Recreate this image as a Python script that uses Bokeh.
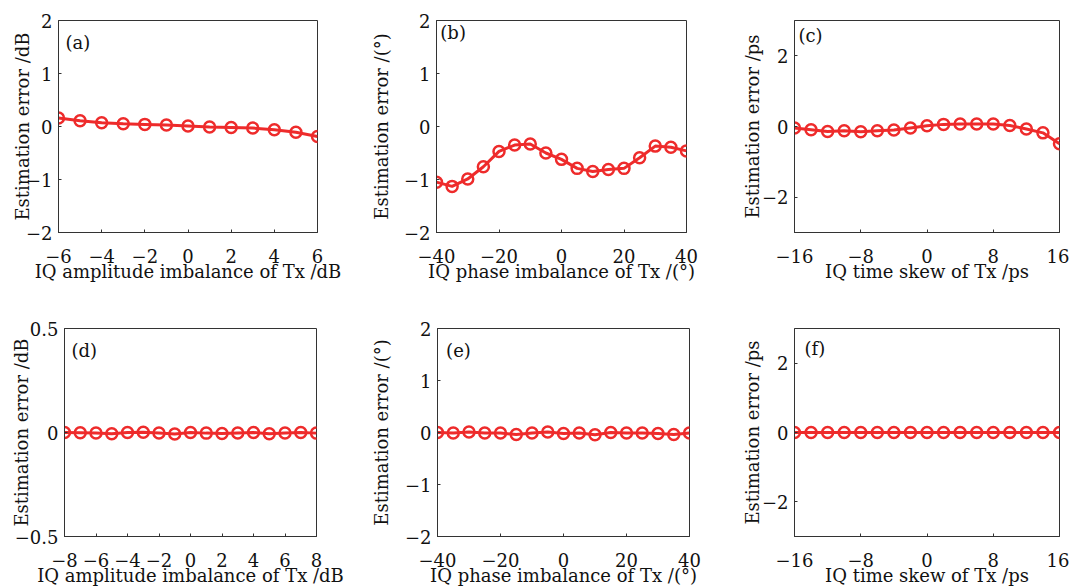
from bokeh.plotting import figure
from bokeh.layouts import column, row
from bokeh.models import Label, FixedTicker, Range1d
from bokeh.embed import file_html
from bokeh.resources import INLINE

# ---------------- data ----------------
a_x = [-6, -5, -4, -3, -2, -1, 0, 1, 2, 3, 4, 5, 6]
a_y = [0.16, 0.11, 0.07, 0.05, 0.04, 0.03, 0.01, -0.01, -0.02, -0.03, -0.06, -0.11, -0.19]

b_x = [-40, -35, -30, -25, -20, -15, -10, -5, 0, 5, 10, 15, 20, 25, 30, 35, 40]
b_y = [-1.05, -1.13, -0.99, -0.76, -0.47, -0.35, -0.33, -0.50, -0.62, -0.79,
       -0.85, -0.81, -0.79, -0.59, -0.37, -0.39, -0.46]

c_x = [-16, -14, -12, -10, -8, -6, -4, -2, 0, 2, 4, 6, 8, 10, 12, 14, 16]
c_y = [-0.04, -0.09, -0.14, -0.12, -0.15, -0.12, -0.10, -0.04, 0.02, 0.06,
       0.07, 0.07, 0.07, 0.03, -0.07, -0.18, -0.49]

d_x = [-8, -7, -6, -5, -4, -3, -2, -1, 0, 1, 2, 3, 4, 5, 6, 7, 8]
d_y = [0.000, -0.001, -0.002, -0.006, 0.000, 0.001, -0.002, -0.007, 0.000,
       -0.003, -0.005, -0.002, 0.000, -0.006, -0.002, 0.000, -0.003]

e_x = [-40, -35, -30, -25, -20, -15, -10, -5, 0, 5, 10, 15, 20, 25, 30, 35, 40]
e_y = [0.00, -0.01, 0.01, -0.01, -0.01, -0.04, -0.01, 0.01, -0.02, -0.01,
       -0.045, 0.00, -0.01, -0.01, -0.02, -0.04, -0.01]

f_x = [-16, -14, -12, -10, -8, -6, -4, -2, 0, 2, 4, 6, 8, 10, 12, 14, 16]
f_y = [0.0, 0.0, 0.0, 0.0, 0.0, 0.0, 0.0, 0.0, 0.0, 0.0, 0.0, 0.0, 0.0, 0.0, 0.0, 0.0, 0.0]

a_xticks = [-6, -4, -2, 0, 2, 4, 6]
d_xticks = [-8, -6, -4, -2, 0, 2, 4, 6, 8]
phase_xticks = [-40, -20, 0, 20, 40]
skew_xticks = [-16, -8, 0, 8, 16]
yticks_2 = [-2, -1, 0, 1, 2]
yticks_3 = [-2, 0, 2]
yticks_05 = [-0.5, 0, 0.5]

amp_xlabel = "IQ amplitude imbalance of Tx /dB"
phase_xlabel = "IQ phase imbalance of Tx /(°)"
skew_xlabel = "IQ time skew of Tx /ps"
amp_ylabel = "Estimation error /dB"
phase_ylabel = "Estimation error /(°)"
skew_ylabel = "Estimation error /ps"

FONT = "DejaVu Serif"
FS = "18px"
RED = "#ee2b2b"
TXT = "#111111"


def fmt(v):
    s = ("%g" % abs(v))
    return ("\u2212" + s) if v < 0 else s


def panel(xs, ys, xr, yr, xt, yt, xlabel, ylabel, tag,
          w, h, bl, br, bt, bb, tag_px, ystand):
    fw = w - bl - br
    fh = h - bt - bb
    p = figure(width=w, height=h,
               x_range=Range1d(*xr), y_range=Range1d(*yr),
               output_backend="svg", toolbar_location=None,
               min_border_left=bl, min_border_right=br,
               min_border_top=bt, min_border_bottom=bb)
    p.xgrid.visible = False
    p.ygrid.visible = False
    p.outline_line_color = "#333333"
    p.outline_line_width = 1
    p.background_fill_color = "white"
    p.border_fill_color = "white"
    for ax, ticks in ((p.xaxis[0], xt), (p.yaxis[0], yt)):
        ax.ticker = FixedTicker(ticks=ticks)
        ax.major_label_overrides = {t: fmt(t) for t in ticks}
        ax.axis_line_color = "#333333"
        ax.major_tick_in = 3
        ax.major_tick_out = 0
        ax.major_tick_line_color = "#333333"
        ax.minor_tick_line_color = None
        ax.major_label_text_font = FONT
        ax.major_label_text_font_size = FS
        ax.major_label_text_color = TXT
        ax.axis_label_text_font = FONT
        ax.axis_label_text_font_size = FS
        ax.axis_label_text_font_style = "normal"
        ax.axis_label_text_color = TXT
    p.xaxis.axis_label = xlabel
    p.yaxis.axis_label = ylabel
    p.xaxis.major_label_standoff = 16
    p.xaxis.axis_label_standoff = -5
    p.yaxis.major_label_standoff = 6
    p.yaxis.axis_label_standoff = ystand

    p.line(xs, ys, line_color=RED, line_width=3)
    p.scatter(xs, ys, marker="circle", size=11, line_color=RED, line_width=2.5,
              fill_color=None)

    sx = (xr[1] - xr[0]) / fw
    sy = (yr[1] - yr[0]) / fh
    p.add_layout(Label(x=xr[0] + tag_px[0] * sx, y=yr[1] - tag_px[1] * sy,
                       text=tag, text_font=FONT, text_font_size=FS,
                       text_color=TXT, text_baseline="top", text_align="left"))
    return p


# row 1
pa = panel(a_x, a_y, (-6, 6), (-2, 2), a_xticks, yticks_2, amp_xlabel, amp_ylabel,
           "(a)", 367, 297, 58, 50, 10, 64, (7, 12), -10)
pb = panel(b_x, b_y, (-40, 40), (-2, 2), phase_xticks, yticks_2, phase_xlabel, phase_ylabel,
           "(b)", 365, 297, 58, 46, 20, 65, (4, 1), 9)
pc = panel(c_x, c_y, (-16, 16), (-3, 3), skew_xticks, yticks_3, skew_xlabel, skew_ylabel,
           "(c)", 337, 297, 62, 10, 15, 65, (4, 5), -4)

# row 2
pd = panel(d_x, d_y, (-8, 8), (-0.5, 0.5), d_xticks, yticks_05, amp_xlabel, amp_ylabel,
           "(d)", 367, 303, 64, 51, 31, 64, (7, 11), -20)
pe = panel(e_x, e_y, (-40, 40), (-2, 2), phase_xticks, yticks_2, phase_xlabel, phase_ylabel,
           "(e)", 365, 303, 59, 43, 31, 64, (9, 11), 10)
pf = panel(f_x, f_y, (-16, 16), (-3, 3), skew_xticks, yticks_3, skew_xlabel, skew_ylabel,
           "(f)", 337, 303, 62, 10, 31, 64, (10, 9), -4)

layout = column(row(pa, pb, pc, spacing=0), row(pd, pe, pf, spacing=0), spacing=0)

open("out.html", "w").write(file_html(layout, INLINE))
